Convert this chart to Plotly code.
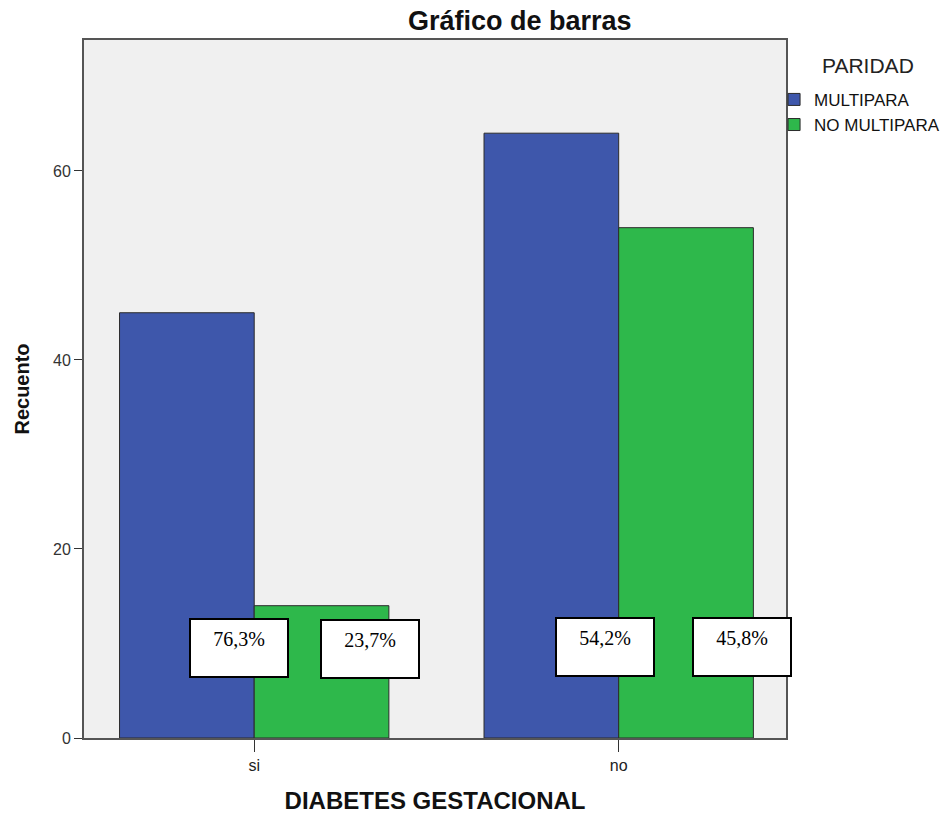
import plotly.graph_objects as go

categories = ["si", "no"]
multipara = [45, 64]
no_multipara = [14, 54]
pct_labels = ["76,3%", "23,7%", "54,2%", "45,8%"]
series_names = ["MULTIPARA", "NO MULTIPARA"]

fig = go.Figure()
fig.add_trace(go.Bar(x=categories, y=multipara, name=series_names[0],
                     marker=dict(color="#3E57AB", line=dict(color="#2b2b2b", width=1))))
fig.add_trace(go.Bar(x=categories, y=no_multipara, name=series_names[1],
                     marker=dict(color="#2EB84B", line=dict(color="#2b2b2b", width=1))))

# annotation box centres (x in category units, y in data units)
box_pos = [(-0.041, 9.52), (0.319, 9.42), (0.963, 9.68), (1.337, 9.68)]
for (bx, by), txt in zip(box_pos, pct_labels):
    fig.add_annotation(x=bx, y=by, xref="x", yref="y", text=txt, showarrow=False,
                       font=dict(family="Liberation Serif, Times New Roman, serif", size=20, color="black"),
                       bgcolor="white", bordercolor="black", borderwidth=2, borderpad=8,
                       width=80, height=40, valign="top", align="center")

# legend title as a separate text
fig.add_annotation(x=1.117, y=0.964, xref="paper", yref="paper", text="PARIDAD", showarrow=False,
                   font=dict(family="Liberation Sans, Arial, sans-serif", size=21, color="#222"),
                   xanchor="center", yanchor="middle")

fig.update_layout(
    width=945, height=814,
    margin=dict(l=84, r=159, t=40, b=76, autoexpand=False),
    paper_bgcolor="white", plot_bgcolor="#F0F0F0",
    barmode="group", bargap=0.261, bargroupgap=0,
    title=dict(text="<b>Gráfico de barras</b>", x=0.55, xanchor="center", y=0.975, yanchor="middle",
               font=dict(family="Liberation Sans, Arial, sans-serif", size=27, color="#111")),
    font=dict(family="Liberation Sans, Arial, sans-serif", color="#222"),
    legend=dict(x=0.983, xanchor="left", y=0.94, yanchor="top",
                font=dict(size=17, color="#111"), bgcolor="rgba(0,0,0,0)",
                itemwidth=30, tracegroupgap=0),
    showlegend=True,
)
fig.update_xaxes(range=[-0.467, 1.459], showline=True, mirror=True, linecolor="#555", linewidth=2,
                 ticks="outside", ticklen=12, tickcolor="#333", tickwidth=1,
                 tickfont=dict(size=16, color="#222"), showgrid=False, automargin=False,
                 title=dict(text="<b>DIABETES GESTACIONAL</b>", font=dict(size=24, color="#111"), standoff=22))
fig.update_yaxes(range=[0, 73.86], tickvals=[0, 20, 40, 60], showline=True, mirror=True, linecolor="#555",
                 linewidth=2, ticks="outside", ticklen=8, tickcolor="#333", tickwidth=1,
                 tickfont=dict(size=16, color="#333"), showgrid=False, zeroline=False, automargin=False,
                 title=dict(text="<b>Recuento</b>", font=dict(size=20, color="#111"), standoff=18))

fig.write_html("out.html", config={"displayModeBar": False},
               post_script="document.body.style.margin='0';document.body.style.overflow='hidden';")
